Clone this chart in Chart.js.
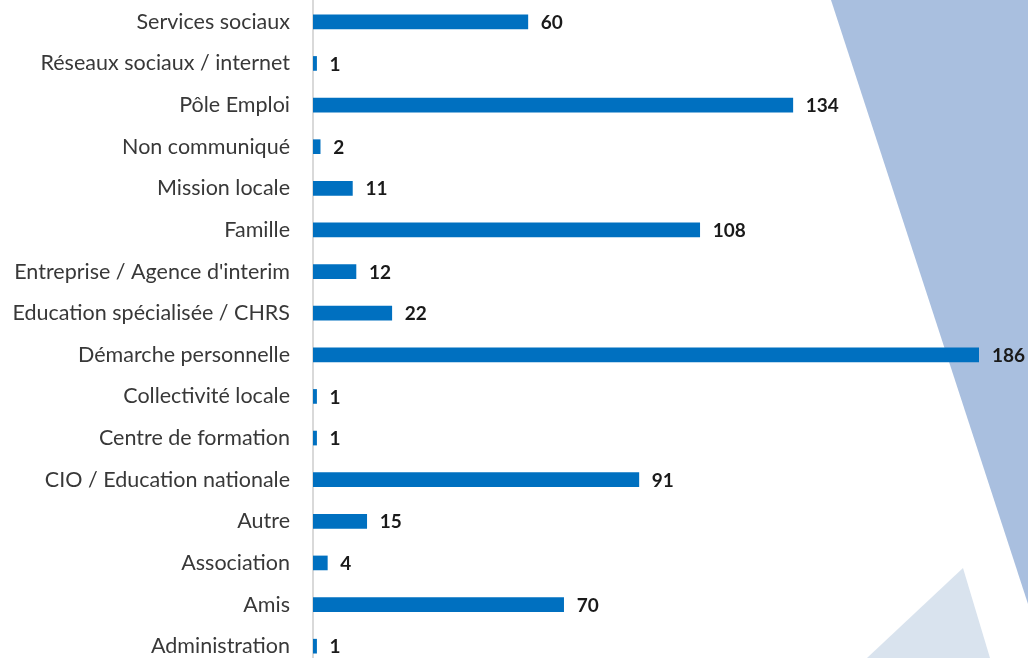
<!DOCTYPE html>
<html>
<head>
<meta charset="utf-8">
<script src="https://cdn.jsdelivr.net/npm/chart.js@4"></script>
<style>
  html, body { margin: 0; padding: 0; background: #fff; overflow: hidden; }
  #wrap { position: relative; width: 1028px; height: 658px; overflow: hidden; }
  #bg { position: absolute; left: 0; top: 0; }
  #chart { position: absolute; left: 0; top: 0; }
</style>
</head>
<body>
<div id="wrap">
  <svg id="bg" width="1028" height="658">
    <polygon points="831,0 1028,0 1028,604" fill="#a9bfdf" />
    <polygon points="963,568 867,658 990,658" fill="#d9e3ee" />
  </svg>
  <canvas id="chart" width="1028" height="667"></canvas>
</div>
<script>
// --- Data ---
const categories = [
  "Services sociaux",
  "Réseaux sociaux / internet",
  "Pôle Emploi",
  "Non communiqué",
  "Mission locale",
  "Famille",
  "Entreprise / Agence d'interim",
  "Education spécialisée / CHRS",
  "Démarche personnelle",
  "Collectivité locale",
  "Centre de formation",
  "CIO / Education nationale",
  "Autre",
  "Association",
  "Amis",
  "Administration",
];
const values = [60, 1, 134, 2, 11, 108, 12, 22, 186, 1, 1, 91, 15, 4, 70, 1];

// value labels at the end of each bar
const valueLabels = {
  id: "valueLabels",
  afterDatasetsDraw(chart) {
    const ctx = chart.ctx;
    const meta = chart.getDatasetMeta(0);
    ctx.save();
    ctx.font = "bold 19px Lato";
    ctx.fillStyle = "#1a1a1a";
    ctx.textBaseline = "middle";
    ctx.textAlign = "left";
    meta.data.forEach((bar, i) => {
      ctx.fillText(String(values[i]), bar.x + 13, bar.y + 1);
    });
    ctx.restore();
  },
};

const chart = new Chart(document.getElementById("chart"), {
  type: "bar",
  data: {
    labels: categories,
    datasets: [
      {
        data: values,
        backgroundColor: "#0070c0",
        barThickness: 14,
      },
    ],
  },
  options: {
    indexAxis: "y",
    responsive: false,
    animation: false,
    layout: { padding: { top: 1, right: 49, bottom: 0, left: 0 } },
    plugins: { legend: { display: false }, tooltip: { enabled: false } },
    scales: {
      x: {
        display: false,
        min: 0,
        max: 186,
      },
      y: {
        afterFit: (s) => {
          s.width = 313;
          // tick padding should not eat vertical space
          s.paddingTop = 0;
          s.paddingBottom = 0;
        },
        grid: { display: false, drawTicks: false },
        border: { display: true, color: "#d9d9d9", width: 2 },
        ticks: {
          padding: 23,
          color: "#383838",
          font: { family: "Lato", size: 21.5 },
        },
      },
    },
  },
  plugins: [valueLabels],
});
</script>
</body>
</html>
